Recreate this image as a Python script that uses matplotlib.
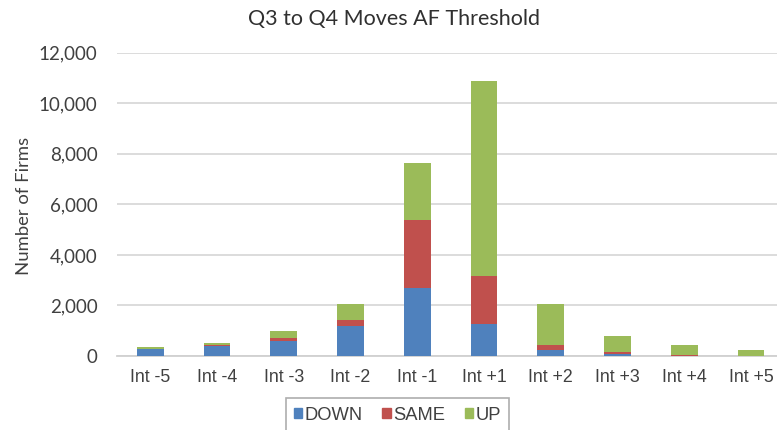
import matplotlib
matplotlib.use("Agg")
import matplotlib.pyplot as plt
from matplotlib.patches import Patch
import numpy as np

categories = ["Int -5", "Int -4", "Int -3", "Int -2", "Int -1",
              "Int +1", "Int +2", "Int +3", "Int +4", "Int +5"]
down = [260, 390, 600, 1190, 2700, 1250, 250, 60, 10, 5]
same = [20, 30, 100, 230, 2680, 1900, 170, 100, 10, 5]
up = [90, 80, 300, 630, 2270, 7750, 1630, 620, 400, 230]
y_ticks = [0, 2000, 4000, 6000, 8000, 10000, 12000]
series_names = ["DOWN", "SAME", "UP"]

C_DOWN = "#4F81BD"
C_SAME = "#C0504D"
C_UP = "#9BBB59"

W, H = 777, 430
fig = plt.figure(figsize=(W / 100, H / 100), dpi=100)
ax = fig.add_axes([117 / W, (H - 356) / H, 1 - 117 / W, (356 - 52.7) / H])

x = np.arange(len(categories))
bw = 0.4
d = np.array(down)
s = np.array(same)
u = np.array(up)
ax.bar(x, d, bw, color=C_DOWN, zorder=3)
ax.bar(x, s, bw, bottom=d, color=C_SAME, zorder=3)
ax.bar(x, u, bw, bottom=d + s, color=C_UP, zorder=3)

ax.set_xlim(-0.5, 9.39)
ax.set_ylim(0, 12000)
ax.set_yticks(y_ticks)
ax.set_yticklabels([f"{v:,}" for v in y_ticks], family="Lato", fontsize=13.5, color="#404040")
ax.set_xticks(x)
ax.set_xticklabels(categories, family="Liberation Sans", fontsize=12.8, color="#404040")
ax.tick_params(axis="both", length=0)
ax.tick_params(axis="y", pad=14)
ax.tick_params(axis="x", pad=9)
ax.grid(axis="y", color="#d9d9d9", linewidth=1.3, zorder=0)
for sp in ["top", "right", "left"]:
    ax.spines[sp].set_visible(False)
ax.spines["bottom"].set_color("#d0d0d0")
ax.spines["bottom"].set_linewidth(1.3)

fig.text(24 / W, 1 - 206 / H, "Number of Firms", rotation=90, ha="center", va="center",
         family="Lato", fontsize=13.3, color="#404040")
fig.text(394 / W, 1 - 19 / H, "Q3 to Q4 Moves AF Threshold", ha="center", va="center",
         family="Lato", fontsize=15.5, color="#303030")

handles = [Patch(color=c) for c in (C_DOWN, C_SAME, C_UP)]
leg = ax.legend(handles, series_names, ncol=3, loc="upper center",
                bbox_to_anchor=(397.5 / W, 1 - 398.3 / H), bbox_transform=fig.transFigure,
                frameon=True, fancybox=False, edgecolor="#9a9a9a", borderaxespad=0,
                prop={"family": "Liberation Sans", "size": 13.2},
                handlelength=0.45, handleheight=0.45, handletextpad=0.15,
                columnspacing=1.05, borderpad=0.45)
leg.get_frame().set_linewidth(1.2)
for t in leg.get_texts():
    t.set_color("#404040")

fig.savefig("out.png", dpi=100)
